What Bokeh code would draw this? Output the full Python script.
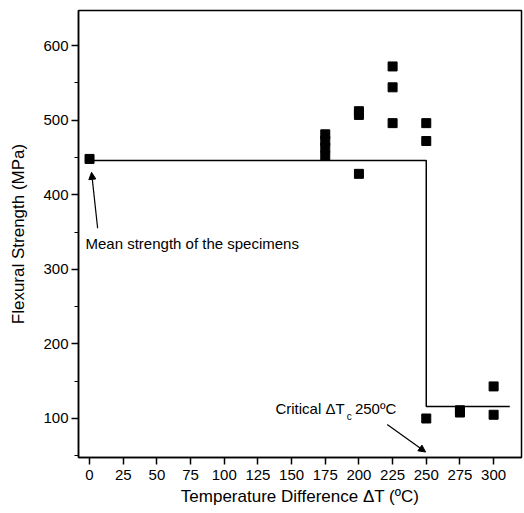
from bokeh.plotting import figure
from bokeh.models import FixedTicker, Label, Arrow, NormalHead, Range1d
from bokeh.embed import file_html
from bokeh.resources import INLINE

# Data
delta_t = [0, 175, 175, 175, 175, 200, 200, 200, 225, 225, 225, 250, 250, 250, 275, 275, 300, 300]
strength = [448, 481, 472, 463, 452, 512, 507, 428, 572, 544, 496, 496, 472, 100, 111, 108, 143, 105]
trend_x = [0, 250, 250, 312]
trend_y = [446, 446, 116, 116]
x_ticks = [0, 25, 50, 75, 100, 125, 150, 175, 200, 225, 250, 275, 300]
y_ticks = [100, 200, 300, 400, 500, 600]
y_minor = [50, 150, 250, 350, 450, 550, 650]

FONT = "Liberation Sans"

p = figure(width=524, height=513, output_backend="svg", toolbar_location=None,
           x_range=Range1d(-8.2, 320.7), y_range=Range1d(47.7, 647),
           min_border_left=78, min_border_right=3, min_border_top=10, min_border_bottom=56)
p.background_fill_color = "white"
p.border_fill_color = "white"
p.xgrid.visible = False
p.ygrid.visible = False
p.outline_line_color = "black"
p.outline_line_width = 1.5
p.outline_line_alpha = 1

p.xaxis.ticker = FixedTicker(ticks=x_ticks)
p.yaxis.ticker = FixedTicker(ticks=y_ticks, minor_ticks=y_minor)
for ax in (p.xaxis[0], p.yaxis[0]):
    ax.axis_line_width = 1.5
    ax.axis_line_color = "black"
    ax.major_tick_line_color = "black"
    ax.major_tick_line_width = 1.5
    ax.major_tick_in = 0
    ax.major_tick_out = 7
    ax.minor_tick_in = 0
    ax.minor_tick_out = 4
    ax.minor_tick_line_color = "black"
    ax.major_label_text_font = FONT
    ax.major_label_text_font_size = "15px"
    ax.major_label_text_color = "black"
    ax.axis_label_text_font = FONT
    ax.axis_label_text_font_size = "17px"
    ax.axis_label_text_font_style = "normal"
    ax.axis_label_text_color = "black"
p.xaxis.minor_tick_line_color = None
p.xaxis.axis_label = "Temperature Difference \u0394T (\u00baC)"
p.yaxis.axis_label = "Flexural Strength (MPa)"
p.xaxis.major_label_standoff = 5
p.xaxis.axis_label_standoff = 4
p.yaxis.major_label_standoff = 3
p.yaxis.axis_label_standoff = 12

p.line(trend_x, trend_y, line_color="black", line_width=1.5)
p.scatter(delta_t, strength, marker="square", size=9, fill_color="black", line_color="black")

p.add_layout(Label(x=-3, y=334, text="Mean strength of the specimens", text_font=FONT,
                   text_font_size="15px", text_baseline="middle", text_color="black"))
p.add_layout(Arrow(x_start=6, y_start=355, x_end=1.5, y_end=430, line_width=1.2,
                   end=NormalHead(size=7, fill_color="black", line_color="black")))

p.add_layout(Label(x=138, y=114, text="Critical \u0394T", text_font=FONT,
                   text_font_size="15px", text_baseline="middle", text_color="black"))
p.add_layout(Label(x=191, y=102, text="c", text_font=FONT,
                   text_font_size="10px", text_baseline="middle", text_color="black"))
p.add_layout(Label(x=197, y=114, text="250\u00baC", text_font=FONT,
                   text_font_size="15px", text_baseline="middle", text_color="black"))
p.add_layout(Arrow(x_start=221, y_start=92, x_end=249.5, y_end=55, line_width=1.2,
                   end=NormalHead(size=7, fill_color="black", line_color="black")))

open("out.html", "w").write(file_html(p, INLINE))
